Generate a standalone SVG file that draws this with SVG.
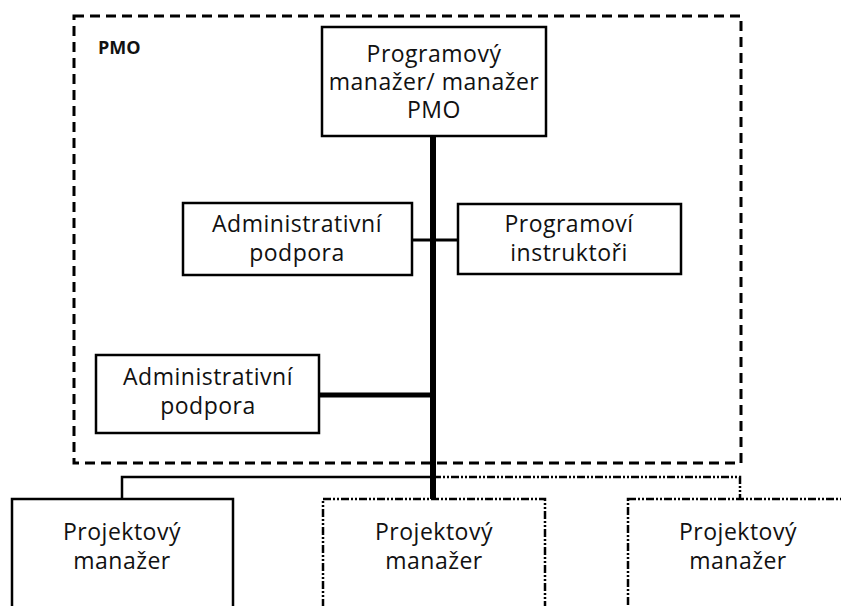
<svg xmlns="http://www.w3.org/2000/svg" width="841" height="606" viewBox="0 0 841 606">
  <style>
    .box { fill: #fff; stroke: #000; stroke-width: 2.5; }
    .dd { fill: #fff; stroke: #000; stroke-width: 2.5; stroke-dasharray: 8 2 2 2 2 2; }
    .lbl { font-family: "Open Sans", "Liberation Sans", sans-serif; font-size: 23px; letter-spacing: 0.5px; fill: #111; text-anchor: middle; }
    .pmo { font-family: "Open Sans", "Liberation Sans", sans-serif; font-size: 18px; font-weight: bold; fill: #111; }
    .ln { stroke: #000; fill: none; }
  </style>
  <rect width="841" height="606" fill="#fff"/>

  <!-- PMO boundary -->
  <g id="pmo-area">
    <rect x="74" y="16" width="667" height="447" fill="none" stroke="#000" stroke-width="3" stroke-dasharray="10 6"/>
    <text class="pmo" x="98" y="54">PMO</text>
  </g>

  <!-- connectors -->
  <g id="connectors">
    <line class="ln" x1="433" y1="136" x2="433" y2="500" stroke-width="6"/>
    <line class="ln" x1="412" y1="240" x2="458" y2="240" stroke-width="3"/>
    <line class="ln" x1="319" y1="395" x2="433" y2="395" stroke-width="5"/>
    <polyline class="ln" points="122,499 122,477 433,477" stroke-width="2.5"/>
    <polyline class="ln" points="433,477 740,477 740,499" stroke-width="2.5" stroke-dasharray="8 2 2 2 2 2"/>
  </g>

  <g id="program-manager">
    <rect class="box" x="322" y="27" width="224" height="109"/>
    <text class="lbl" x="434" y="62">Programový</text>
    <text class="lbl" x="434" y="90">manažer/ manažer</text>
    <text class="lbl" x="434" y="118">PMO</text>
  </g>

  <g id="admin-support-1">
    <rect class="box" x="183" y="203" width="229" height="72"/>
    <text class="lbl" x="297" y="232">Administrativní</text>
    <text class="lbl" x="297" y="261">podpora</text>
  </g>

  <g id="program-instructors">
    <rect class="box" x="458" y="204" width="223" height="70"/>
    <text class="lbl" x="569" y="232">Programoví</text>
    <text class="lbl" x="569" y="261">instruktoři</text>
  </g>

  <g id="admin-support-2">
    <rect class="box" x="96" y="355" width="223" height="78"/>
    <text class="lbl" x="208" y="385">Administrativní</text>
    <text class="lbl" x="208" y="414">podpora</text>
  </g>

  <g id="project-manager-1">
    <rect class="box" x="12" y="499" width="221" height="120"/>
    <text class="lbl" x="122" y="540">Projektový</text>
    <text class="lbl" x="122" y="569">manažer</text>
  </g>

  <g id="project-manager-2">
    <rect class="dd" x="323" y="499" width="222" height="120"/>
    <text class="lbl" x="434" y="540">Projektový</text>
    <text class="lbl" x="434" y="569">manažer</text>
  </g>

  <g id="project-manager-3">
    <rect class="dd" x="628" y="499" width="230" height="120"/>
    <text class="lbl" x="738" y="540">Projektový</text>
    <text class="lbl" x="738" y="569">manažer</text>
  </g>
</svg>
